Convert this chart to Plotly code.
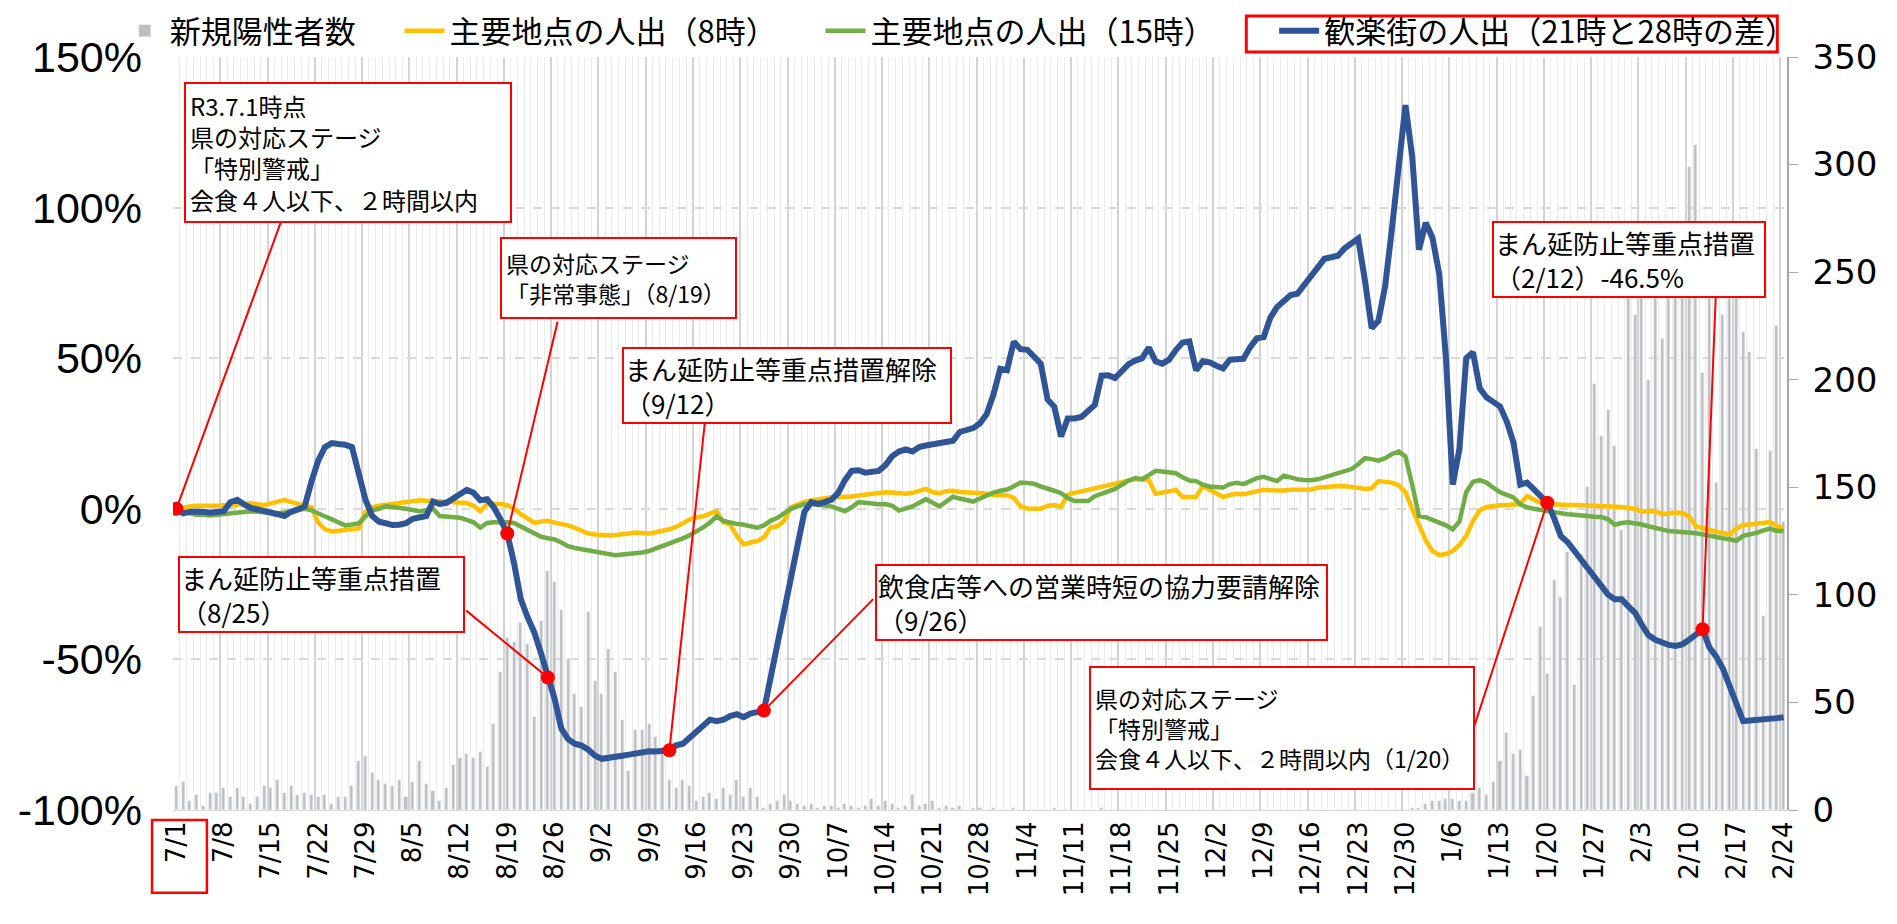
import plotly.graph_objects as go
from datetime import date, timedelta

# ---------------- data ----------------
start = date(2021, 7, 1)
dates = [start + timedelta(days=i) for i in range(239)]
date_labels = [f"{d.month}/{d.day}" for d in dates]
tick_idx = list(range(0, 239, 7))
tick_labels = [date_labels[i] for i in tick_idx]

left_ticks = [-100, -50, 0, 50, 100, 150]
left_tick_text = ["-100%", "-50%", "0%", "50%", "100%", "150%"]

new_cases = [
    11, 13, 4, 7, 2, 8, 8, 10, 6, 10,
    6, 3, 6, 11, 10, 14, 8, 11, 7, 8,
    7, 6, 7, 3, 6, 6, 11, 23, 25, 17,
    14, 12, 11, 14, 6, 13, 23, 12, 9, 4,
    10, 21, 24, 26, 24, 27, 20, 40, 64, 80,
    78, 87, 77, 43, 88, 111, 106, 93, 70, 54,
    48, 92, 60, 54, 75, 64, 42, 18, 37, 37,
    40, 34, 29, 14, 10, 14, 11, 4, 6, 8,
    5, 10, 7, 14, 6, 10, 6, 1, 3, 4,
    7, 4, 3, 2, 3, 1, 2, 2, 1, 3,
    2, 1, 2, 5, 2, 4, 3, 1, 2, 7,
    2, 3, 4, 1, 2, 1, 2, 0, 1, 1,
    0, 1, 0, 0, 1, 0, 0, 0, 0, 0,
    1, 0, 0, 0, 0, 0, 0, 1, 0, 0,
    0, 0, 0, 0, 0, 0, 0, 0, 0, 0,
    0, 0, 0, 0, 0, 0, 0, 0, 0, 0,
    0, 0, 0, 0, 0, 0, 0, 0, 0, 0,
    0, 0, 0, 0, 0, 0, 0, 0, 0, 0,
    0, 0, 0, 1, 1, 3, 4, 4, 5, 5,
    4, 4, 8, 10, 7, 13, 23, 36, 26, 28,
    16, 53, 85, 63, 107, 99, 120, 58, 119, 150,
    198, 174, 186, 169, 130, 240, 230, 255, 200, 250,
    219, 240, 248, 265, 299, 309, 203, 270, 152, 230,
    246, 270, 222, 213, 168, 90, 167, 225, 134,
]

people_8h = [
    0, 0.5, 0.8, 1.0, 1.0, 0.8, 1.0, 1.2, 1.0, 1.3,
    1.5, 1.8, 1.5, 1.2, 1.8, 2.5, 3.0, 2.2, 1.5, 1.0,
    0.5, -4.5, -6.8, -7.5, -7.3, -7.0, -6.8, -6.5, -1.0, 0.5,
    1.0, 1.3, 1.8, 2.2, 2.5, 2.7, 2.8, 2.7, 2.7, 2.5,
    2.4, 2.2, 2.0, 1.9, 1.0, -0.8, 1.6, 1.7, 1.6, 1.2,
    0, -1.8, -3.2, -4.7, -4.2, -4.0, -4.6, -5.0, -5.5, -6.3,
    -7.1, -8.2, -8.5, -8.7, -8.8, -8.7, -8.6, -8.2, -7.9, -8.1,
    -8.2, -7.8, -7.4, -6.8, -6.0, -4.8, -3.6, -2.9, -2.5, -1.6,
    -0.8, -4.5, -5.2, -9.0, -11.8, -11.2, -10.7, -9.5, -6.2, -5.8,
    -4.0, 0.5, 1.5, 2.3, 2.8, 3.2, 3.5, 3.8, 3.9, 3.9,
    4.1, 4.4, 4.7, 5.0, 5.2, 5.5, 5.4, 5.2, 5.0, 5.3,
    5.8, 6.6, 5.5, 5.2, 5.8, 6.0, 5.6, 5.5, 5.5, 5.4,
    5.1, 4.6, 4.4, 4.5, 3.6, 0.8, 0.1, 0, 0, 1.0,
    1.2, 0.8, 4.7, 5.3, 5.8, 6.3, 6.8, 7.2, 7.6, 8.0,
    8.8, 9.4, 9.8, 9.8, 9.5, 5.0, 5.3, 5.8, 6.3, 3.9,
    3.9, 4.0, 7.6, 6.5, 5.0, 3.9, 4.6, 5.0, 4.8, 5.2,
    5.8, 6.3, 6.2, 6.0, 6.1, 6.3, 6.3, 6.3, 6.4, 7.0,
    7.3, 7.5, 7.6, 7.5, 7.4, 7.0, 6.6, 6.8, 9.2, 9.0,
    8.7, 7.8, 5.5, 0.0, -5.0, -10.5, -14.0, -15.3, -15.0, -14.0,
    -12.0, -9.0, -4.0, -0.5, 0.6, 1.0, 1.2, 1.3, 1.4, 1.6,
    4.2, 3.0, 2.0, 1.6, 1.4, 1.3, 1.3, 1.3, 1.2, 1.3,
    1.3, 1.0, 0.8, 0.8, 0.6, 0.3, 0, -1.0, -0.7, -0.8,
    -1.8, -1.5, -1.2, -1.4, -2.5, -5.8, -6.5, -7.1, -7.6, -8.0,
    -8.5, -6.6, -5.4, -5.2, -5.0, -4.6, -4.4, -5.8, -6.3,
]

people_15h = [
    0, -1.0, -1.5, -2.0, -2.0, -2.2, -2.0, -1.8, -1.5, -1.2,
    -1.0, -0.8, -1.0, -1.2, -1.5, -1.5, -1.2, -0.8, -0.5, 0,
    -0.5, -1.5, -2.2, -3.2, -4.5, -5.5, -5.2, -4.8, -2.5, -0.5,
    0, 0.8, 0.6, 0.4, 0, -0.4, -0.8, -0.5, 0, -2.4,
    -2.6, -2.7, -3.0, -3.7, -4.5, -6.3, -4.7, -4.5, -4.4, -4.5,
    -4.7, -5.8, -7.0, -8.2, -9.3, -9.8, -10.2, -11.2, -12.4, -13.0,
    -13.4, -13.9, -14.3, -14.8, -15.2, -15.4, -15.2, -15.0, -14.8, -14.5,
    -14.0, -13.2, -12.5, -11.6, -10.8, -9.8, -8.8, -7.6, -6.2, -4.6,
    -2.5, -4.0, -4.6, -5.0, -5.3, -5.8, -6.3, -5.5, -4.0, -3.0,
    -1.5, 0, 0.8, 1.5, 1.6, 1.3, 1.0, 0.8, 0, -0.8,
    0.5, 2.2, 2.0, 1.6, 1.5, 1.6, 1.0, -0.6, 0, 0.8,
    2.0, 3.2, 2.0, 0.8, 2.4, 4.0, 3.4, 2.8, 2.4, 3.4,
    4.5, 5.4, 6.0, 6.4, 7.5, 8.7, 8.6, 8.3, 7.4, 6.5,
    6.0, 5.2, 3.6, 2.6, 2.5, 2.6, 4.2, 5.2, 5.8, 6.6,
    8.0, 9.4, 10.2, 9.8, 11.2, 12.6, 12.4, 12.2, 11.8, 10.5,
    9.4, 9.2, 8.0, 7.4, 7.1, 7.1, 8.2, 8.6, 8.2, 9.2,
    10.2, 10.6, 9.8, 9.2, 11.0, 10.3, 9.8, 9.6, 9.5, 9.8,
    10.5, 11.2, 12.0, 12.5, 13.2, 14.8, 16.8, 16.5, 16.0, 16.8,
    18.2, 19.0, 17.4, 8.0, -2.4, -2.8, -3.6, -4.5, -5.5, -6.8,
    -4.2, 5.5, 9.0, 9.5, 8.7, 7.0, 5.5, 4.6, 3.8, 1.5,
    0.5, 0, -0.4, -0.8, -1.0, -1.4, -1.8, -2.0, -2.3, -2.5,
    -2.6, -2.7, -3.5, -5.3, -4.7, -4.5, -4.8, -5.2, -5.8, -6.3,
    -6.9, -7.4, -7.5, -7.6, -7.7, -8.1, -8.5, -9.0, -9.4, -9.8,
    -10.1, -10.6, -9.0, -8.6, -8.0, -7.2, -6.6, -7.4, -7.4,
]

nightlife = [
    0, -1.5, -1.0, -0.8, -1.0, -1.3, -1.2, -0.8, 2.2, 3.0,
    1.5, 0.3, -0.2, -0.6, -1.2, -1.8, -2.4, -1.0, -0.2, 0.8,
    9, 16, 20.5, 21.8, 21.5, 21.3, 20.5, 12, 3, -2.4,
    -4.3, -4.8, -5.4, -5.3, -4.8, -3.3, -2.6, -2.4, 2.4, 1.6,
    2.0, 3.3, 5.0, 6.3, 5.3, 2.8, 3.2, 0.5, -3.5, -8.2,
    -18, -30, -36, -41, -48, -56, -63, -73, -76.5, -78,
    -78.6, -80, -82, -83, -82.5, -82.2, -82, -81.6, -81.2, -81,
    -80.5, -80.6, -80.5, -80.2, -78.5, -78, -76, -74, -72, -70,
    -70.5, -70, -68.8, -68.2, -69.2, -68, -67.5, -67, -56, -45,
    -36, -25, -12, -1, 2.2, 1.6, 2.2, 3.0, 5.3, 9.5,
    12.6, 12.8, 12.0, 12.2, 12.6, 14.5, 17.5, 19.0, 19.7, 19.0,
    20.5, 21.0, 21.5, 21.8, 22.2, 22.6, 25.5, 26.3, 26.8, 28.4,
    31.5, 38, 46.5, 46, 55.5, 53, 52.8, 50.5, 48.2, 36.3,
    33.9, 24, 30, 30, 30.5, 32.5, 34.5, 44.2, 44.3, 43.4,
    45.5, 48, 49.2, 50, 53.5, 49, 48.2, 49.5, 52.7, 55.2,
    55.6, 46, 49, 48.6, 47.5, 46.6, 49.5, 49.8, 49.8, 53.7,
    56.6, 57, 63.5, 67, 68.8, 71, 71.4, 74.5, 76.8, 80,
    83, 83.5, 84, 86.5, 88.2, 89.7, 75.8, 60, 62.4, 74,
    93, 114, 134, 117, 86, 95, 90, 78, 50, 8,
    20, 50, 52, 40, 37, 35.5, 34, 29, 22, 8,
    8.7, 6.5, 4, 2, -3, -9, -11, -14, -17, -20,
    -22.5, -25.5, -28.5, -30, -30, -32.4, -34.5, -38.5, -42, -43.5,
    -44.5, -45.2, -45.5, -45, -43.5, -41.5, -40, -46, -49, -53,
    -58.8, -65.5, -70.5, -70.3, -70.2, -70, -69.8, -69.5, -69.2,
]

# event markers (dates of the annotations) and their texts
events = [
    ("7/1", "R3.7.1時点<br>県の対応ステージ<br>「特別警戒」<br>会食４人以下、２時間以内"),
    ("8/19", "県の対応ステージ<br>「非常事態」（8/19）"),
    ("8/25", "まん延防止等重点措置<br>（8/25）"),
    ("9/12", "まん延防止等重点措置解除<br>（9/12）"),
    ("9/26", "飲食店等への営業時短の協力要請解除<br>（9/26）"),
    ("1/20", "県の対応ステージ<br>「特別警戒」<br>会食４人以下、２時間以内（1/20）"),
    ("2/12", "まん延防止等重点措置<br>（2/12）-46.5%"),
]

x = list(range(len(date_labels)))
ev_idx = [date_labels.index(e[0]) for e in events]

JP = "Noto Sans CJK JP"
GAP1 = "\u3000\u2005"
GAP2 = "\u3000\u2002\u2005"
GAP3 = "\u3000\u3000\u2005"

fig = go.Figure()
fig.add_trace(go.Bar(
    x=x, y=new_cases, name="新規陽性者数" + GAP1, marker_color="#BFBFBF",
    width=0.45, xaxis="x", yaxis="y",
))
fig.add_trace(go.Scatter(
    x=x, y=people_8h, name="主要地点の人出（8時）" + GAP2, mode="lines",
    line=dict(color="#FFC000", width=4.5), xaxis="x2", yaxis="y2",
))
fig.add_trace(go.Scatter(
    x=x, y=people_15h, name="主要地点の人出（15時）" + GAP3, mode="lines",
    line=dict(color="#70AD47", width=4.5), xaxis="x2", yaxis="y2",
))
fig.add_trace(go.Scatter(
    x=x, y=nightlife, name="歓楽街の人出（21時と28時の差）", mode="lines",
    line=dict(color="#2F5597", width=6), xaxis="x2", yaxis="y2",
))
fig.add_trace(go.Scatter(
    x=ev_idx, y=[nightlife[i] for i in ev_idx], mode="markers",
    marker=dict(color="#FF0000", size=14), showlegend=False,
    xaxis="x2", yaxis="y2", hoverinfo="skip",
))

# annotation boxes: (box left day, box top %, text width px, text height px or None, font size, pad)
box_pos = [
    (1.1, 141.7, 316, None, 24, 4),
    (47.9, 90.1, 225, 70, 23, 4),
    (0.24, -15.6, 281, None, 26, 1),
    (66.0, 53.6, 324, None, 26, 1),
    (103.4, -18.2, 447, None, 26, 1),
    (135.1, -52.3, 374, 112, 23, 4),
    (194.8, 95.7, 268, None, 26, 1),
]
# leader line tails (day, %)
tail_pos = [
    (15.6, 96.0), (56.5, 62.6), (42.7, -33.4), (78.3, 29.5),
    (103.4, -29.5), (192.0, -73.5), (228.0, 73.5),
]

annotations = []
for (lab, txt), i, (bx, by, bw, bh, fs, pad), (tx, ty) in zip(events, ev_idx, box_pos, tail_pos):
    annotations.append(dict(
        x=i, y=nightlife[i], xref="x2", yref="y2",
        ax=tx, ay=ty, axref="x2", ayref="y2",
        text="", showarrow=True, arrowhead=0, arrowwidth=2,
        arrowcolor="#FF0000", standoff=0,
    ))
    box = dict(
        x=bx, y=by, xref="x2", yref="y2", xanchor="left", yanchor="top",
        text=txt, showarrow=False, align="left", valign="middle", width=bw,
        font=dict(family=JP, size=fs, color="#000000"),
        bgcolor="#FFFFFF", bordercolor="#FF0000", borderwidth=2, borderpad=pad,
    )
    if bh is not None:
        box["height"] = bh
    annotations.append(box)

fig.update_layout(
    width=1897, height=924,
    margin=dict(l=173, r=110, t=57, b=114, autoexpand=False),
    paper_bgcolor="#FFFFFF", plot_bgcolor="#FFFFFF",
    bargap=0,
    showlegend=True,
    legend=dict(
        orientation="h", x=-0.033, xanchor="left", y=1.0345, yanchor="middle",
        font=dict(family=JP, size=31, color="#000000"),
        bgcolor="rgba(0,0,0,0)", itemwidth=40, traceorder="normal",
    ),
    xaxis=dict(
        range=[-0.5, len(x) - 0.5], tickmode="array", tickvals=tick_idx,
        ticktext=tick_labels, tickangle=-90, ticks="", showgrid=False,
        zeroline=False, showline=True, linecolor="#D9D9D9", linewidth=1,
        tickfont=dict(family="DejaVu Sans", size=26, color="#000000"),
        minor=dict(tickmode="linear", tick0=-0.5, dtick=1, showgrid=True,
                   gridcolor="#EBEBEB", gridwidth=1, ticks=""),
    ),
    xaxis2=dict(
        matches="x", overlaying="x", tickmode="array",
        tickvals=[i - 0.5 for i in tick_idx], showticklabels=False, ticks="",
        showgrid=True, gridcolor="#D4D4D4", gridwidth=1.5, zeroline=False,
    ),
    yaxis=dict(
        range=[0, 350], side="right", tickmode="linear", tick0=0, dtick=50,
        showgrid=False, zeroline=False, showline=True, linecolor="#A6A6A6",
        linewidth=1.5, ticks="outside", ticklen=9, tickcolor="#A6A6A6",
        ticklabelstandoff=8,
        tickfont=dict(family="DejaVu Sans", size=34, color="#000000"),
    ),
    yaxis2=dict(
        range=[-100, 150], overlaying="y", side="left", anchor="x2",
        tickmode="array", tickvals=left_ticks, ticktext=left_tick_text,
        showgrid=True, gridcolor="#D9D9D9", gridwidth=1.5, griddash="dash",
        zeroline=False, ticks="", ticklabelstandoff=30,
        tickfont=dict(family="Liberation Sans Narrow, Arial Narrow, Liberation Sans, sans-serif",
                      size=43, color="#000000"),
    ),
    annotations=annotations,
    shapes=[
        dict(type="rect", xref="paper", yref="paper", x0=0.665, x1=0.994,
             y0=1.0066, y1=1.0544, line=dict(color="#FF0000", width=3),
             fillcolor="rgba(0,0,0,0)"),
        dict(type="rect", xref="paper", yref="paper", x0=-0.013, x1=0.021,
             y0=-0.110, y1=-0.0133, line=dict(color="#FF0000", width=2.5),
             fillcolor="rgba(0,0,0,0)"),
    ],
)

fig.write_html(
    "out.html",
    config={"displayModeBar": False},
    post_script="document.body.style.margin='0';document.body.style.overflow='hidden';",
)
